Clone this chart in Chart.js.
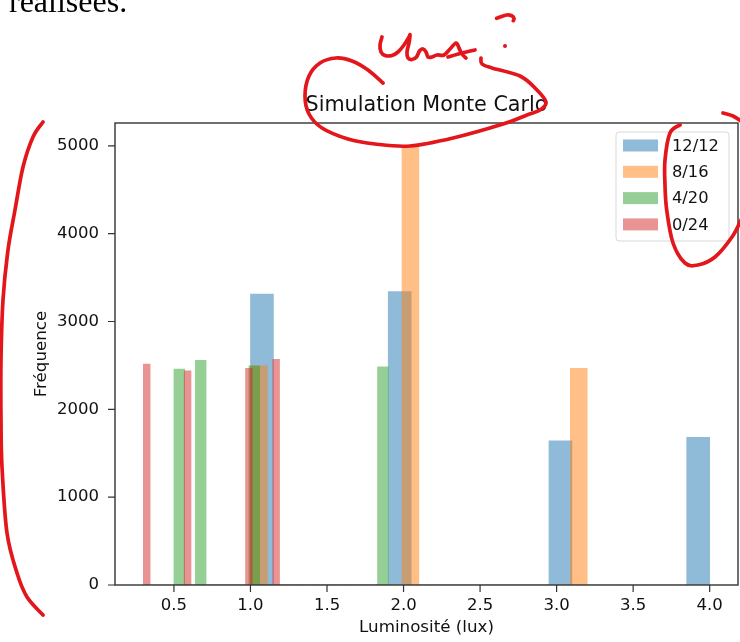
<!DOCTYPE html>
<html>
<head>
<meta charset="utf-8">
<script src="https://cdn.jsdelivr.net/npm/chart.js@4/dist/chart.umd.min.js"></script>
<style>
  body { margin: 0; background: #fff; }
  #wrap { position: relative; width: 740px; height: 642px; overflow: hidden; }
  #chart { position: absolute; left: 0; top: 0; }
  #doc { position: absolute; left: 9px; top: -15px; font: 32px/32px "Liberation Serif", serif; color: #000; }
  #ink { position: absolute; left: 0; top: 0; pointer-events: none; }
</style>
</head>
<body>
<div id="wrap">
  <canvas id="chart" width="740" height="642"></canvas>
  <div id="doc">réalisées.</div>
  <svg id="ink" width="740" height="642"></svg>
</div>
<script>
// histogram data (20 bins per series, counts)
const seriesLabels = ['12/12', '8/16', '4/20', '0/24'];
const binStart = [1.0, 1.0, 0.5, 0.3];
const binWidth = [0.15, 0.11, 0.07, 0.0445];
const counts1212 = [3311, 0, 0, 0, 0, 0, 3341, 0, 0, 0, 0, 0, 0, 1640, 0, 0, 0, 0, 0, 1682];
const counts816  = [2494, 0, 0, 0, 0, 0, 0, 0, 0, 5005, 0, 0, 0, 0, 0, 0, 0, 0, 0, 2468];
const counts420  = [2459, 0, 2557, 0, 0, 0, 0, 2494, 0, 0, 0, 0, 0, 0, 0, 0, 0, 0, 0, 2483];
const counts024  = [2514, 0, 0, 0, 0, 0, 2437, 0, 0, 0, 0, 0, 0, 0, 0, 2468, 0, 0, 0, 2570];
const allCounts = [counts1212, counts816, counts420, counts024];
const colors = ['rgba(31,119,180,0.5)', 'rgba(255,127,14,0.5)', 'rgba(44,160,44,0.5)', 'rgba(214,39,40,0.5)'];

// axis limits and ticks
const xLimits = [0.115, 4.185];
const yLimits = [0, 5260];
const xTicks = [0.5, 1.0, 1.5, 2.0, 2.5, 3.0, 3.5, 4.0];
const yTicks = [0, 1000, 2000, 3000, 4000, 5000];

const FONT = 'DejaVu Sans';
const INK = '#111';
const TICK_LEN = 7;

// one x axis per series so each gets its own bin width
const axisIds = seriesLabels.map((l, k) => k === 0 ? 'x' : 'x' + k);

const datasets = seriesLabels.map((label, k) => ({
    label: label,
    data: allCounts[k].map((c, i) => ({ x: binStart[k] + (i + 0.5) * binWidth[k], y: c })),
    xAxisID: axisIds[k],
    backgroundColor: colors[k],
    borderWidth: 0,
    barPercentage: 1,
    categoryPercentage: 1,
    grouped: false,
    order: seriesLabels.length - k
}));

const setTicks = list => scale => { scale.ticks = list.map(v => ({ value: v })); };

const scales = {
    x: {
        type: 'linear', position: 'bottom', min: xLimits[0], max: xLimits[1], offset: false,
        afterBuildTicks: setTicks(xTicks),
        afterFit: s => { s.height = 57; },
        grid: { display: false, drawTicks: false, offset: false },
        border: { display: false },
        ticks: { padding: 11, color: INK, maxRotation: 0, autoSkip: false,
                 font: { family: FONT, size: 16.5 }, callback: v => v.toFixed(1) },
        title: { display: true, text: 'Luminosité (lux)', color: INK, font: { family: FONT, size: 16.7 }, padding: { top: 0, bottom: 4 } }
    },
    y: {
        min: yLimits[0], max: yLimits[1],
        afterBuildTicks: setTicks(yTicks),
        afterFit: s => { s.width = 115; },
        grid: { display: false, drawTicks: false },
        border: { display: false },
        ticks: { padding: 16, color: INK, font: { family: FONT, size: 16.5 }, callback: v => String(v) },
        title: { display: true, text: 'Fréquence', color: INK, font: { family: FONT, size: 16.7 }, padding: { top: 32, bottom: 0 } }
    }
};
axisIds.slice(1).forEach(id => {
    scales[id] = { type: 'linear', display: false, offset: false, min: xLimits[0], max: xLimits[1],
                   afterBuildTicks: setTicks(xTicks) };
});

// axes frame, tick marks, title above the axes and legend inside, matplotlib style
const mplDecor = {
    id: 'mplDecor',
    afterDatasetsDraw(chart) {
        const { ctx, chartArea: a } = chart;
        const xs = chart.scales.x, ys = chart.scales.y;
        ctx.save();
        ctx.strokeStyle = '#333';
        ctx.lineWidth = 1.4;
        ctx.strokeRect(a.left, a.top, a.right - a.left, a.bottom - a.top);

        ctx.lineWidth = 1.2;
        ctx.beginPath();
        xs.ticks.forEach(t => {
            const px = xs.getPixelForValue(t.value);
            ctx.moveTo(px, a.bottom);
            ctx.lineTo(px, a.bottom + TICK_LEN);
        });
        ys.ticks.forEach(t => {
            const py = ys.getPixelForValue(t.value);
            ctx.moveTo(a.left - TICK_LEN, py);
            ctx.lineTo(a.left, py);
        });
        ctx.stroke();

        ctx.fillStyle = INK;
        ctx.font = '20.7px "' + FONT + '"';
        ctx.textAlign = 'center';
        ctx.textBaseline = 'alphabetic';
        ctx.fillText('Simulation Monte Carlo', (a.left + a.right) / 2, a.top - 12.3);

        // legend box
        const w = 113, h = 109;
        const bx = a.right - 9 - w, by = a.top + 9;
        ctx.beginPath();
        ctx.roundRect(bx, by, w, h, 3);
        ctx.fillStyle = 'rgba(255,255,255,0.8)';
        ctx.fill();
        ctx.strokeStyle = '#d9d9d9';
        ctx.lineWidth = 1;
        ctx.stroke();
        ctx.font = '16.3px "' + FONT + '"';
        ctx.textAlign = 'left';
        ctx.textBaseline = 'middle';
        chart.data.datasets.forEach((ds, i) => {
            const cy = by + 13.5 + i * 26.3;
            ctx.fillStyle = ds.backgroundColor;
            ctx.fillRect(bx + 7, cy - 6, 35, 12);
            ctx.fillStyle = INK;
            ctx.fillText(ds.label, bx + 56, cy + 1);
        });
        ctx.restore();
    }
};

new Chart(document.getElementById('chart'), {
    type: 'bar',
    data: { datasets: datasets },
    options: {
        responsive: false,
        animation: false,
        layout: { padding: { top: 123, right: 2, left: 0, bottom: 0 } },
        plugins: { legend: { display: false }, title: { display: false }, tooltip: { enabled: false } },
        scales: scales
    },
    plugins: [mplDecor]
});

// red pen marks drawn over the screenshot
const strokes = [
    [[43,122],[33,137],[23,167],[15,210],[8,250],[3,300],[1,360],[1,420],[2,467],[7,533],[17,573],[27,597],[43,615]],
    [[481,58],[482,64],[492,68],[520,76],[536,89],[546,102],[540,110],[527,115],[503,124],[453,138],[410,146],[375,144],[348,139],[322,128],[309,114],[305,96],[309,76],[320,63],[336,58],[352,61],[368,70],[383,83]],
    [[382,37],[380,45],[381,52],[385,55.5],[392,55.5],[398,52],[404,45],[409,37],[410,35],[409,43],[407,52],[408,58],[412,59.5],[416.5,57],[419.5,51],[423,49],[426,52],[428,57],[432,57],[437,55],[444,55],[450,49],[456,43],[459,48],[462,54],[466,58]],
    [[448,57],[462,53],[475,50]],
    [[496.7,18.3],[506.7,15],[511.7,15.7],[514,18.3],[513.3,20.7]],
    [[680,125],[670,133],[665,160],[665,185],[666.7,210],[673,243],[685,263],[698,265],[715,257],[732,237],[741,220]],
    [[723,113],[733,116],[741,121]]
];
function smoothPath(pts) {
    let d = 'M' + pts[0][0] + ' ' + pts[0][1];
    for (let i = 0; i < pts.length - 1; i++) {
        const p0 = pts[i - 1] || pts[i], p1 = pts[i], p2 = pts[i + 1], p3 = pts[i + 2] || p2;
        const c1 = [p1[0] + (p2[0] - p0[0]) / 6, p1[1] + (p2[1] - p0[1]) / 6];
        const c2 = [p2[0] - (p3[0] - p1[0]) / 6, p2[1] - (p3[1] - p1[1]) / 6];
        d += ` C${c1[0]} ${c1[1]} ${c2[0]} ${c2[1]} ${p2[0]} ${p2[1]}`;
    }
    return d;
}
const svg = document.getElementById('ink');
let marks = '';
strokes.forEach(s => {
    marks += `<path d="${smoothPath(s)}" fill="none" stroke="#e3161b" stroke-width="3.7" stroke-linecap="round" stroke-linejoin="round"/>`;
});
marks += '<circle cx="505" cy="46" r="2" fill="#e3161b"/>';
svg.innerHTML = marks;
</script>
</body>
</html>
